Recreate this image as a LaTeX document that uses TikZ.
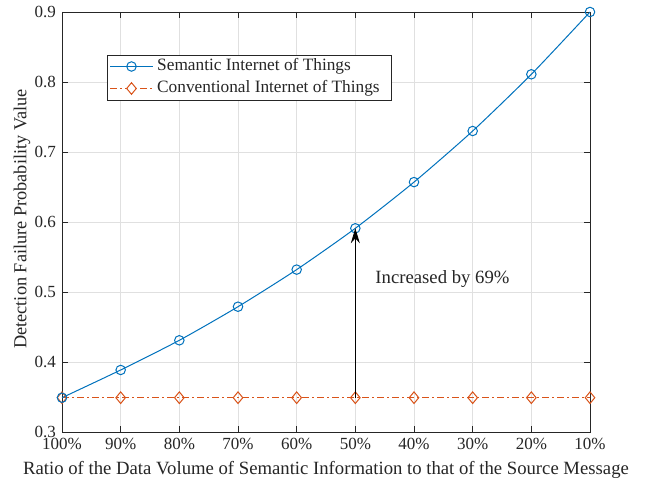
\documentclass[tikz,border=0pt]{standalone}
\usepackage{fontspec}
\setmainfont{Liberation Serif}
\usetikzlibrary{arrows.meta,shapes.geometric}
\definecolor{mblue}{rgb}{0,0.447,0.741}
\definecolor{mred}{rgb}{0.85,0.325,0.098}
\definecolor{axgray}{rgb}{0.15,0.15,0.15}
\definecolor{gridgray}{rgb}{0.88,0.88,0.88}
\tikzset{
  lbl/.style={font=\fontsize{17}{19}\selectfont, text=axgray, inner sep=0pt},
  biglbl/.style={font=\fontsize{18.7}{21}\selectfont, text=axgray, inner sep=0pt},
  smark/.style={circle, draw=mblue, line width=1pt, minimum size=9.5pt, inner sep=0pt},
  cmark/.style={diamond, draw=mred, line width=1pt, minimum width=10pt, minimum height=12pt, inner sep=0pt},
  sline/.style={draw=mblue, line width=1pt},
  cseg/.style={draw=mred, line width=1.1pt},
}
\begin{document}
\begin{tikzpicture}
\useasboundingbox (0,0) rectangle (657pt,487pt);
\fill[white] (0,0) rectangle (657pt,487pt);
\begin{scope}[shift={(62pt,55pt)}, x=58.667pt, y=700pt]
  % grid
  \foreach \i in {1,...,8} \draw[gridgray, line width=0.6pt] (\i,0) -- (\i,0.6);
  \foreach \v in {0.1,0.2,...,0.5} \draw[gridgray, line width=0.6pt] (0,\v) -- (9,\v);
  % ticks
  \foreach \i in {0,...,9} {
    \draw[axgray, line width=0.6pt] (\i,0) -- ++(0,6pt);
    \draw[axgray, line width=0.6pt] (\i,0.6) -- ++(0,-6pt);
  }
  \foreach \v in {0,0.1,0.2,...,0.6} {
    \draw[axgray, line width=0.6pt] (0,\v) -- ++(6pt,0);
    \draw[axgray, line width=0.6pt] (9,\v) -- ++(-6pt,0);
  }
  % frame
  \draw[axgray, line width=0.7pt] (0,0) rectangle (9,0.6);
  % tick labels
  \foreach \i/\t in {0/100,1/90,2/80,3/70,4/60,5/50,6/40,7/30,8/20,9/10}
    \node[lbl, anchor=base] (xt\i) at (\i,-18pt) {\t\%};
  \foreach \v/\t in {0/0.3,0.1/0.4,0.2/0.5,0.3/0.6,0.4/0.7,0.5/0.8,0.6/0.9}
    \node[lbl, anchor=east] (yt\t) at ([xshift=-6pt]0,\v) {\t};
  % data coordinates
  \foreach \i/\v [count=\k] in {0/0.049,1/0.0886,2/0.131,3/0.179,4/0.232,5/0.291,6/0.357,7/0.430,8/0.511,9/0.600}
    \coordinate (s\k) at (\i,\v);
  \foreach \i [count=\k] in {0,...,9}
    \coordinate (c\k) at (\i,0.049);
  % conventional: dash-dot line drawn as solid pieces
  \begin{scope}
    \clip (0,0.03) rectangle (9,0.07);
    \foreach \p in {0,...,35} {
      \draw[cseg] ([xshift=\p*15pt]c1) -- ([xshift=\p*15pt+7pt]c1);
      \draw[cseg] ([xshift=\p*15pt+10pt]c1) -- ([xshift=\p*15pt+12pt]c1);
    }
  \end{scope}
  \path[sline] plot[smooth, tension=0.4] coordinates {(s1) (s2) (s3) (s4) (s5) (s6) (s7) (s8) (s9) (s10)};
  % markers
  \foreach \k in {1,...,10} \node[cmark] (cm\k) at (c\k) {};
  \foreach \k in {1,...,10} \node[smark] (sm\k) at (s\k) {};
  % annotation arrow
  \draw[black, line width=0.8pt, -{Stealth[length=15pt, width=9pt, inset=5pt]}] (cm6.center) -- (sm6.center);
  \node[biglbl, anchor=west] (ann) at (5.34,0.219) {Increased by 69\%};
\end{scope}
% axis labels
\node[biglbl, anchor=base] (xlab) at (326pt,12pt) {Ratio of the Data Volume of Semantic Information to that of the Source Message};
\node[biglbl, font=\fontsize{18.3}{21}\selectfont, rotate=90, anchor=center] (ylab) at (22pt,268pt) {Detection Failure Probability Value};
% legend
\node[draw=axgray, line width=0.6pt, fill=white, minimum width=284pt, minimum height=44.7pt, anchor=north west, inner sep=0pt] (leg) at (106.7pt,431.7pt) {};
\coordinate (l1a) at (110pt,420.5pt);
\coordinate (l1b) at (153pt,420.5pt);
\coordinate (l2a) at (110pt,398.5pt);
\path[sline] (l1a) -- (l1b);
\foreach \p in {0,1,2} {
  \draw[cseg] ([xshift=\p*15pt]l2a) -- ([xshift=\p*15pt+7pt]l2a);
  \draw[cseg] ([xshift=\p*15pt+10pt]l2a) -- ([xshift=\p*15pt+12pt]l2a);
}
\node[smark] (lm1) at (131.5pt,420.5pt) {};
\node[cmark, fill=white] (lm2) at (131.5pt,398.5pt) {};
\node[lbl, font=\fontsize{17.3}{19}\selectfont, anchor=west] (lt1) at (157pt,420.5pt) {Semantic Internet of Things};
\node[lbl, font=\fontsize{17.3}{19}\selectfont, anchor=west] (lt2) at (157pt,398.5pt) {Conventional Internet of Things};
\end{tikzpicture}
\end{document}
